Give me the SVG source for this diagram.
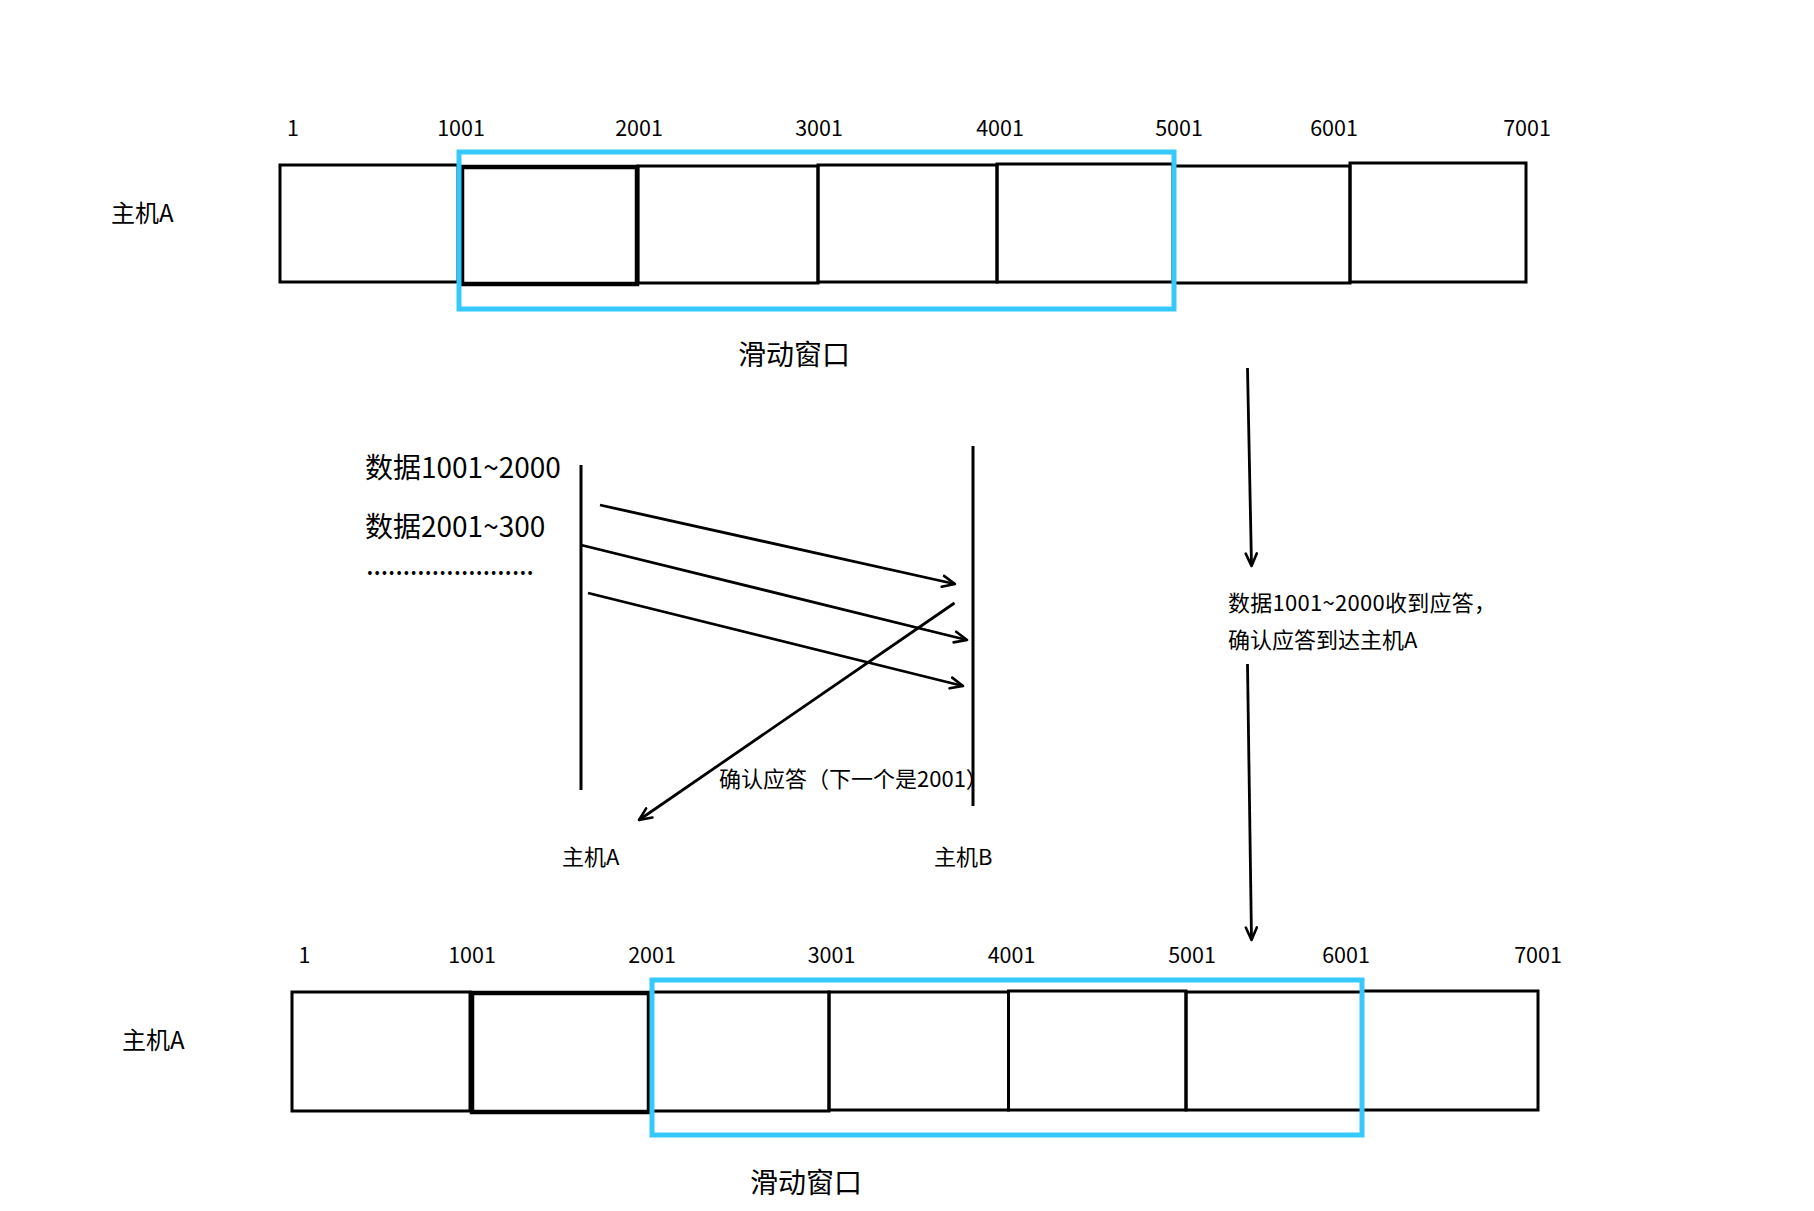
<svg xmlns="http://www.w3.org/2000/svg" width="1814" height="1211" viewBox="0 0 1814 1211">
<style>
.cell{fill:none;stroke:#000;stroke-width:3}
.thick{stroke-width:4.5}
.win{fill:none;stroke:#36c9fb;stroke-width:5}
.ln{fill:none;stroke:#000;stroke-width:3}
.arr{fill:none;stroke:#000;stroke-width:2.8;marker-end:url(#ah)}
text{font-family:"Noto Sans CJK SC","Noto Sans",sans-serif;fill:#000}
.num{font-size:21.5px;text-anchor:middle}
.host{font-size:24px}
.win-t{font-size:28px;text-anchor:middle}
.data{font-size:28px}
.sm{font-size:22px}
</style>
<defs>
<marker id="ah" viewBox="0 0 16 14" refX="14" refY="7" markerWidth="16" markerHeight="14" markerUnits="userSpaceOnUse" orient="auto">
<path d="M1.5,1.5 L14,7 L1.5,12.5" fill="none" stroke="#000" stroke-width="2.6" stroke-linecap="round" stroke-linejoin="round"/>
</marker>
</defs>
<rect width="1814" height="1211" fill="#fff"/>

<g id="top-row">
<text class="host" x="111" y="222">主机A</text>
<g id="top-labels">
<text class="num" x="293" y="135.5">1</text>
<text class="num" x="461" y="135.5">1001</text>
<text class="num" x="639" y="135.5">2001</text>
<text class="num" x="819" y="135.5">3001</text>
<text class="num" x="1000" y="135.5">4001</text>
<text class="num" x="1179" y="135.5">5001</text>
<text class="num" x="1334" y="135.5">6001</text>
<text class="num" x="1527" y="135.5">7001</text>
</g>
<g id="top-cell-1"><rect class="cell" x="280" y="165" width="178" height="117"/></g>
<g id="top-cell-2"><rect class="cell thick" x="462" y="167" width="175" height="117"/></g>
<g id="top-cell-3"><rect class="cell" x="638" y="166" width="180" height="117"/></g>
<g id="top-cell-4"><rect class="cell" x="818" y="165" width="179" height="117"/></g>
<g id="top-cell-5"><rect class="cell" x="997" y="164" width="176" height="118"/></g>
<g id="top-cell-6"><rect class="cell" x="1174" y="166" width="176" height="117"/></g>
<g id="top-cell-7"><rect class="cell" x="1350" y="163" width="176" height="119"/></g>
<g id="top-window"><rect class="win" x="459" y="152" width="715" height="157"/></g>
<text class="win-t" x="794" y="365">滑动窗口</text>
</g>

<g id="sequence">
<g id="hostA-line"><line class="ln" x1="581" y1="465" x2="581" y2="790"/>
<text class="sm" x="562" y="865">主机A</text></g>
<g id="hostB-line"><line class="ln" x1="973" y1="446" x2="973" y2="806"/>
<text class="sm" x="934" y="865">主机B</text></g>
<text class="data" x="365" y="478">数据1001~2000</text>
<text class="data" x="365" y="537">数据2001~300</text>
<text class="data" x="366" y="575" textLength="168">.......................</text>
<text class="sm" x="719" y="787">确认应答（下一个是2001）</text>
</g>

<g id="note">
<text class="sm" x="1228" y="611" textLength="268">数据1001~2000收到应答，</text>
<text class="sm" x="1228" y="648">确认应答到达主机A</text>
</g>

<g id="bottom-row">
<text class="host" x="122" y="1049">主机A</text>
<g id="bottom-labels">
<text class="num" x="304.5" y="962.5">1</text>
<text class="num" x="472" y="962.5">1001</text>
<text class="num" x="652" y="962.5">2001</text>
<text class="num" x="831.5" y="962.5">3001</text>
<text class="num" x="1011.5" y="962.5">4001</text>
<text class="num" x="1192" y="962.5">5001</text>
<text class="num" x="1346" y="962.5">6001</text>
<text class="num" x="1538" y="962.5">7001</text>
</g>
<g id="bottom-cell-1"><rect class="cell" x="292" y="992" width="178" height="119"/></g>
<g id="bottom-cell-2"><rect class="cell thick" x="472" y="993" width="177" height="119"/></g>
<g id="bottom-cell-3"><rect class="cell" x="651" y="992" width="178" height="119"/></g>
<g id="bottom-cell-4"><rect class="cell" x="829" y="992" width="179.5" height="118"/></g>
<g id="bottom-cell-5"><rect class="cell" x="1008.5" y="991" width="177.5" height="119"/></g>
<g id="bottom-cell-6"><rect class="cell" x="1186" y="992" width="176" height="118"/></g>
<g id="bottom-cell-7"><rect class="cell" x="1362" y="991" width="176" height="119"/></g>
<g id="bottom-window"><rect class="win" x="652" y="980" width="710" height="155"/></g>
<text class="win-t" x="806" y="1193">滑动窗口</text>
</g>

<g id="connectors">
<line class="arr" x1="600" y1="505" x2="955" y2="584"/>
<line class="arr" x1="581" y1="545" x2="967" y2="640"/>
<line class="arr" x1="588" y1="593" x2="963" y2="686"/>
<line class="arr" x1="954.5" y1="603" x2="639" y2="820"/>
<line class="arr" x1="1247.5" y1="368" x2="1251.5" y2="566"/>
<line class="arr" x1="1247.5" y1="664" x2="1251.5" y2="940"/>
</g>
</svg>
